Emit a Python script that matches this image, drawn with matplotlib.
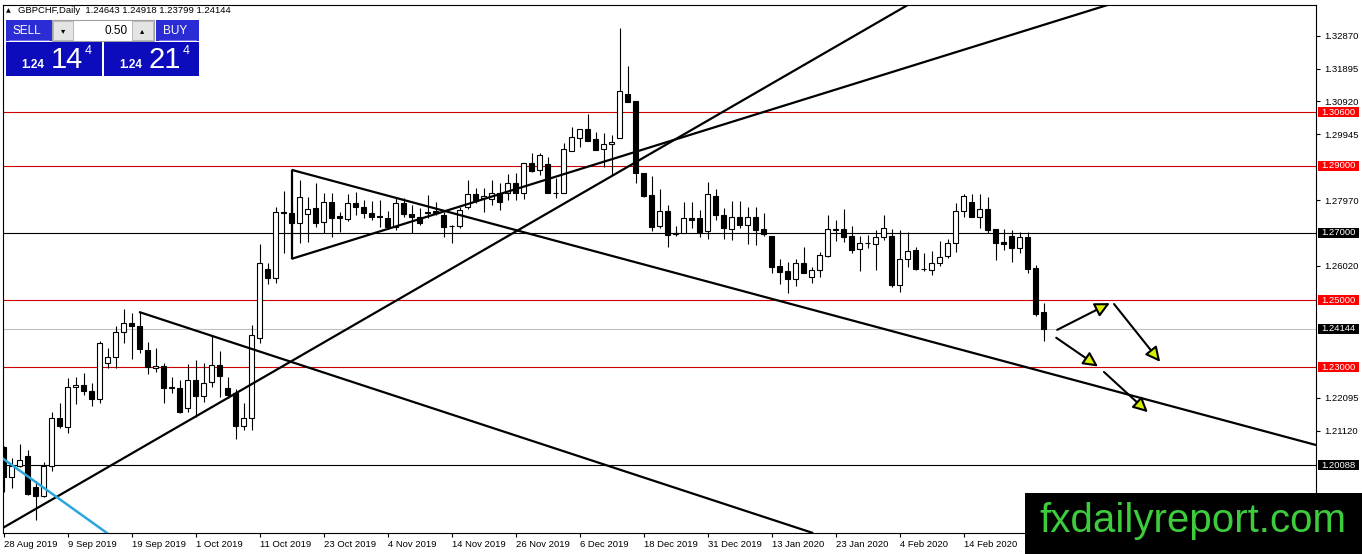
import numpy as np
import matplotlib.pyplot as plt
from matplotlib.patches import Rectangle, FancyArrowPatch
from matplotlib.transforms import blended_transform_factory

plt.rcParams['font.family'] = ['Liberation Sans', 'DejaVu Sans']

symbol = "GBPCHF,Daily"
last_ohlc = ["1.24643", "1.24918", "1.23799", "1.24144"]

date_labels = ["28 Aug 2019", "9 Sep 2019", "19 Sep 2019", "1 Oct 2019", "11 Oct 2019",
               "23 Oct 2019", "4 Nov 2019", "14 Nov 2019", "26 Nov 2019", "6 Dec 2019",
               "18 Dec 2019", "31 Dec 2019", "13 Jan 2020", "23 Jan 2020", "4 Feb 2020",
               "14 Feb 2020"]
date_bars = [0, 8, 16, 24, 32, 40, 48, 56, 64, 72, 80, 88, 96, 104, 112, 120]

opens = [1.2063, 1.1974, 1.2007, 1.2036, 1.1944, 1.1917, 1.2007, 1.2149, 1.2123, 1.2242,
         1.2248, 1.2230, 1.2206, 1.2313, 1.2331, 1.2405, 1.2432, 1.2423, 1.2352, 1.2298,
         1.2304, 1.2240, 1.2239, 1.2179, 1.2262, 1.2215, 1.2257, 1.2307, 1.2239, 1.2224,
         1.2126, 1.2149, 1.2387, 1.2593, 1.2566, 1.2762, 1.2760, 1.2730, 1.2757, 1.2774,
         1.2733, 1.2792, 1.2751, 1.2742, 1.2789, 1.2777, 1.2760, 1.2751, 1.2745, 1.2718,
         1.2789, 1.2757, 1.2748, 1.2760, 1.2765, 1.2754, 1.2720, 1.2721, 1.2777, 1.2816,
         1.2804, 1.2801, 1.2819, 1.2819, 1.2849, 1.2819, 1.2908, 1.2888, 1.2905, 1.2818,
         1.2819, 1.2944, 1.2983, 1.3010, 1.2980, 1.2950, 1.2965, 1.2983, 1.3114, 1.3093,
         1.2879, 1.2813, 1.2721, 1.2765, 1.2698, 1.2700, 1.2745, 1.2745, 1.2706, 1.2810,
         1.2754, 1.2712, 1.2748, 1.2724, 1.2748, 1.2712, 1.2691, 1.2602, 1.2587, 1.2563,
         1.2611, 1.2569, 1.2590, 1.2632, 1.2710, 1.2712, 1.2691, 1.2652, 1.2669, 1.2667,
         1.2688, 1.2691, 1.2545, 1.2623, 1.2649, 1.2592, 1.2590, 1.2611, 1.2632, 1.2670,
         1.2765, 1.2792, 1.2748, 1.2771, 1.2712, 1.2673, 1.2691, 1.2655, 1.2688, 1.2596,
         1.24643]
highs = [1.2066, 1.2030, 1.2072, 1.2054, 1.1962, 1.2018, 1.2167, 1.2194, 1.2268, 1.2271,
         1.2283, 1.2254, 1.2379, 1.2358, 1.2423, 1.2474, 1.2462, 1.2465, 1.2376, 1.2358,
         1.2313, 1.2271, 1.2262, 1.2310, 1.2322, 1.2313, 1.2393, 1.2349, 1.2271, 1.2236,
         1.2194, 1.2426, 1.2667, 1.2611, 1.2777, 1.2825, 1.2783, 1.2858, 1.2807, 1.2849,
         1.2819, 1.2819, 1.2762, 1.2816, 1.2822, 1.2798, 1.2795, 1.2798, 1.2765, 1.2804,
         1.2804, 1.2783, 1.2774, 1.2813, 1.2792, 1.2762, 1.2724, 1.2777, 1.2858, 1.2834,
         1.2834, 1.2858, 1.2849, 1.2876, 1.2879, 1.2908, 1.2938, 1.2938, 1.2926, 1.2864,
         1.2968, 1.3015, 1.3010, 1.3054, 1.3001, 1.2998, 1.2992, 1.3310, 1.3197, 1.3093,
         1.2879, 1.2870, 1.2831, 1.2783, 1.2721, 1.2792, 1.2792, 1.2768, 1.2852, 1.2831,
         1.2774, 1.2795, 1.2795, 1.2777, 1.2777, 1.2760, 1.2691, 1.2623, 1.2614, 1.2623,
         1.2658, 1.2599, 1.2643, 1.2754, 1.2739, 1.2771, 1.2721, 1.2691, 1.2694, 1.2709,
         1.2754, 1.2712, 1.2709, 1.2703, 1.2658, 1.2640, 1.2646, 1.2676, 1.2682, 1.2789,
         1.2816, 1.2816, 1.2816, 1.2807, 1.2712, 1.2712, 1.2709, 1.2703, 1.2703, 1.2605,
         1.24918]
lows = [1.1929, 1.1940, 1.2005, 1.1921, 1.1846, 1.1914, 1.1992, 1.2120, 1.2105, 1.2191,
        1.2218, 1.2185, 1.2194, 1.2298, 1.2298, 1.2373, 1.2325, 1.2343, 1.2280, 1.2286,
        1.2194, 1.2224, 1.2164, 1.2167, 1.2152, 1.2197, 1.2242, 1.2212, 1.2209, 1.2087,
        1.2114, 1.2114, 1.2373, 1.2548, 1.2551, 1.2640, 1.2679, 1.2670, 1.2673, 1.2718,
        1.2700, 1.2688, 1.2703, 1.2736, 1.2754, 1.2745, 1.2739, 1.2718, 1.2712, 1.2709,
        1.2748, 1.2700, 1.2724, 1.2745, 1.2754, 1.2688, 1.2670, 1.2715, 1.2771, 1.2789,
        1.2762, 1.2783, 1.2768, 1.2798, 1.2798, 1.2801, 1.2882, 1.2873, 1.2819, 1.2804,
        1.2819, 1.2944, 1.2956, 1.2974, 1.2947, 1.2896, 1.2873, 1.2983, 1.3090, 1.2849,
        1.2807, 1.2706, 1.2715, 1.2658, 1.2691, 1.2700, 1.2715, 1.2688, 1.2682, 1.2739,
        1.2682, 1.2679, 1.2715, 1.2667, 1.2664, 1.2691, 1.2581, 1.2548, 1.2521, 1.2542,
        1.2581, 1.2551, 1.2569, 1.2629, 1.2676, 1.2673, 1.2640, 1.2587, 1.2655, 1.2590,
        1.2679, 1.2539, 1.2524, 1.2599, 1.2590, 1.2587, 1.2575, 1.2602, 1.2626, 1.2643,
        1.2748, 1.2748, 1.2715, 1.2700, 1.2620, 1.2649, 1.2614, 1.2640, 1.2581, 1.2453,
        1.23799]
closes = [1.1974, 1.2007, 1.2024, 1.1923, 1.1917, 1.2007, 1.2149, 1.2126, 1.2242, 1.2248,
          1.2230, 1.2206, 1.2373, 1.2331, 1.2405, 1.2432, 1.2423, 1.2355, 1.2301, 1.2304,
          1.2239, 1.2243, 1.2167, 1.2262, 1.2215, 1.2254, 1.2307, 1.2274, 1.2218, 1.2126,
          1.2149, 1.2396, 1.2611, 1.2566, 1.2762, 1.2759, 1.2730, 1.2807, 1.2771, 1.2730,
          1.2792, 1.2745, 1.2745, 1.2789, 1.2777, 1.2760, 1.2748, 1.2748, 1.2718, 1.2789,
          1.2757, 1.2748, 1.2730, 1.2762, 1.2760, 1.2718, 1.2721, 1.2768, 1.2816, 1.2798,
          1.2810, 1.2819, 1.2792, 1.2849, 1.2819, 1.2908, 1.2885, 1.2932, 1.2819, 1.2820,
          1.2950, 1.2986, 1.3010, 1.2974, 1.2947, 1.2965, 1.2971, 1.3123, 1.3090, 1.2879,
          1.2810, 1.2718, 1.2765, 1.2694, 1.2700, 1.2745, 1.2739, 1.2703, 1.2816, 1.2754,
          1.2715, 1.2748, 1.2724, 1.2748, 1.2709, 1.2697, 1.2599, 1.2584, 1.2563, 1.2611,
          1.2581, 1.2590, 1.2635, 1.2712, 1.2713, 1.2688, 1.2649, 1.2670, 1.2671, 1.2688,
          1.2715, 1.2545, 1.2623, 1.2646, 1.2593, 1.2594, 1.2611, 1.2629, 1.2670, 1.2765,
          1.2810, 1.2748, 1.2771, 1.2709, 1.2670, 1.2667, 1.2655, 1.2688, 1.2593, 1.2459,
          1.24144]

price_ticks = [1.32870, 1.31895, 1.30920, 1.29945, 1.27970, 1.26020, 1.22095, 1.21120, 1.19170]
red_levels = [1.30600, 1.29000, 1.25000, 1.23000]
black_levels = [1.27000, 1.20088]
bid = 1.24144

# trend lines as (bar, price) pairs
trend_lines = [
    [(-0.1, 1.1822), (113.06, 1.3379)],
    [(36.0, 1.2623), (138.06, 1.3379)],
    [(36.0, 1.2888), (164.06, 1.2069)],
    [(36.0, 1.2888), (36.0, 1.2623)],
    [(16.94, 1.2465), (101.2, 1.1807)],
]
blue_line = [(-0.1, 1.2029), (12.94, 1.1807)]
arrows = [
    [(131.4, 1.2408), (138.6, 1.2495)],
    [(138.6, 1.2495), (144.8, 1.2310)],
    [(131.3, 1.2393), (137.1, 1.2298)],
    [(137.3, 1.2292), (143.3, 1.2161)],
]

W, H = 1362, 554
fig = plt.figure(figsize=(W / 100, H / 100), dpi=100)
ax = fig.add_axes([3 / W, 21 / H, 1313 / W, 528 / H])
ymin, ymax = 1.180714, 1.337857
ax.set_xlim(-0.0625, 164.06)
ax.set_ylim(ymin, ymax)
for s in ax.spines.values():
    s.set_linewidth(0.8)

# candles
x = np.arange(len(opens))
o, hi, lo, c = map(np.array, (opens, highs, lows, closes))
up = c >= o
ax.vlines(x, lo, hi, color='black', lw=0.8, zorder=2)
body_lo = np.minimum(o, c)
body_h = np.maximum(np.abs(c - o), 0.00015)
ax.bar(x[up], body_h[up], bottom=body_lo[up], width=0.62, color='white',
       edgecolor='black', lw=0.8, zorder=3)
ax.bar(x[~up], body_h[~up], bottom=body_lo[~up], width=0.62, color='black',
       edgecolor='black', lw=0.8, zorder=3)

# horizontal levels
for lv in red_levels:
    ax.axhline(lv, color='#cc0000', lw=0.8, zorder=1)
for lv in black_levels:
    ax.axhline(lv, color='black', lw=0.8, zorder=1)
ax.axhline(bid, color='#c0c0c0', lw=0.8, zorder=1)

for (x0, p0), (x1, p1) in trend_lines:
    ax.plot([x0, x1], [p0, p1], color='black', lw=1.6, zorder=4, solid_capstyle='butt')
ax.plot([blue_line[0][0], blue_line[1][0]], [blue_line[0][1], blue_line[1][1]],
        color='#2aa6dc', lw=1.8, zorder=4)
for (x0, p0), (x1, p1) in arrows:
    ax.add_patch(FancyArrowPatch((x0, p0), (x1, p1), arrowstyle='-|>', mutation_scale=22,
                                 lw=1.5, ec='black', fc='#d8f000', zorder=5))

# axes ticks
ax.yaxis.tick_right()
ax.set_yticks(price_ticks)
ax.set_yticklabels([f"{p:.5f}" for p in price_ticks])
ax.tick_params(axis='y', direction='out', length=3, pad=3, labelsize=6.8, width=0.8)
ax.set_xticks(date_bars)
ax.set_xticklabels(date_labels)
for lbl in ax.get_xticklabels():
    lbl.set_horizontalalignment('left')
ax.tick_params(axis='x', direction='out', length=3, pad=2, labelsize=6.8, width=0.8)

# price tags on the right
tr = blended_transform_factory(ax.transAxes, ax.transData)
ppx = (ymax - ymin) / 528
tags = [(lv, '#ff0000') for lv in red_levels] + [(lv, 'black') for lv in black_levels] + [(bid, 'black')]
for lv, col in tags:
    ax.add_patch(Rectangle((1 + 2 / 1313, lv - 5 * ppx), 41 / 1313, 10 * ppx, transform=tr,
                           fc=col, ec='none', clip_on=False, zorder=6))
    ax.text(1 + 5 / 1313, lv, f"{lv:.5f}", transform=tr, color='white', fontsize=6.8,
            va='center', ha='left', clip_on=False, zorder=7)

# overlay in pixel coordinates
ov = fig.add_axes([0, 0, 1, 1], zorder=10)
ov.set_xlim(0, W)
ov.set_ylim(H, 0)
ov.axis('off')

ov.text(8, 10.5, "▲", fontsize=4.5, ha='center', va='center', family=['DejaVu Sans'])
ov.text(18, 10.5, symbol + "  " + " ".join(last_ohlc), fontsize=6.8, ha='left', va='center')

head_col = '#2c2cd4'
body_col = '#0c0cbc'
ov.add_patch(Rectangle((6, 20), 46, 21, fc=head_col, ec='none'))
ov.add_patch(Rectangle((156, 20), 43, 21, fc=head_col, ec='none'))
ov.plot([9, 49], [40, 40], color='#8080ee', lw=0.6)
ov.plot([159, 196], [40, 40], color='#8080ee', lw=0.6)
ov.add_patch(Rectangle((52, 20), 102, 21, fc='white', ec='#a0a0a0', lw=0.8))
ov.add_patch(Rectangle((53, 21), 20, 19, fc='#e4e4e4', ec='#b0b0b0', lw=0.6))
ov.add_patch(Rectangle((132, 21), 21, 19, fc='#e4e4e4', ec='#b0b0b0', lw=0.6))
ov.text(63, 30.5, "▾", fontsize=6, ha='center', va='center', family=['DejaVu Sans'])
ov.text(142.5, 30.5, "▴", fontsize=6, ha='center', va='center', family=['DejaVu Sans'])
ov.text(128, 30.5, "0.50", fontsize=8.5, ha='right', va='center')
ov.text(27, 31, "SELL", fontsize=8.5, color='white', ha='center', va='center')
ov.text(175, 31, "BUY", fontsize=8.5, color='white', ha='center', va='center')
ov.add_patch(Rectangle((6, 42), 96, 34, fc=body_col, ec='none'))
ov.add_patch(Rectangle((104, 42), 95, 34, fc=body_col, ec='none'))
for bx, big in [(0, "14"), (98, "21")]:
    ov.text(33 + bx, 65, "1.24", fontsize=8.5, color='white', weight='bold', ha='center', va='center')
    ov.text(67 + bx, 60, big, fontsize=21, color='white', ha='center', va='center')
    ov.text(88 + bx, 51, "4", fontsize=9, color='white', ha='center', va='center')

# watermark
ov.add_patch(Rectangle((1025, 493), 337, 61, fc='black', ec='none'))
ov.text(1193, 521, "fxdailyreport.com", fontsize=29, color='#3ccc3c', ha='center', va='center')

fig.savefig('out.png', dpi=100)
